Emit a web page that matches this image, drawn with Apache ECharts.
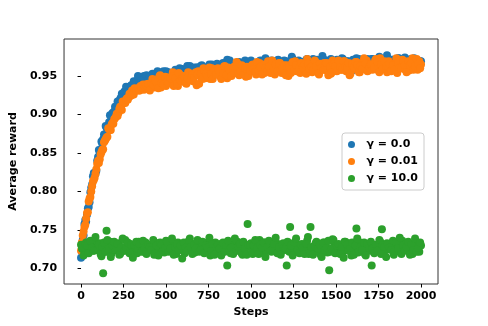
<!DOCTYPE html>
<html>
<head>
<meta charset="utf-8">
<script src="https://cdn.jsdelivr.net/npm/echarts@6/dist/echarts.min.js"></script>
<style>
html, body { margin: 0; padding: 0; background: #fff; }
#chart { width: 488px; height: 326px; }
</style>
</head>
<body>
<div id="chart"></div>
<script>
// training steps, sampled every 10 steps
const steps = [
  0, 10, 20, 30, 40, 50, 60, 70, 80, 90, 100, 110, 120, 130, 140, 150, 160, 170, 180, 190,
  200, 210, 220, 230, 240, 250, 260, 270, 280, 290, 300, 310, 320, 330, 340, 350, 360, 370, 380, 390,
  400, 410, 420, 430, 440, 450, 460, 470, 480, 490, 500, 510, 520, 530, 540, 550, 560, 570, 580, 590,
  600, 610, 620, 630, 640, 650, 660, 670, 680, 690, 700, 710, 720, 730, 740, 750, 760, 770, 780, 790,
  800, 810, 820, 830, 840, 850, 860, 870, 880, 890, 900, 910, 920, 930, 940, 950, 960, 970, 980, 990,
  1000, 1010, 1020, 1030, 1040, 1050, 1060, 1070, 1080, 1090, 1100, 1110, 1120, 1130, 1140, 1150, 1160, 1170, 1180, 1190,
  1200, 1210, 1220, 1230, 1240, 1250, 1260, 1270, 1280, 1290, 1300, 1310, 1320, 1330, 1340, 1350, 1360, 1370, 1380, 1390,
  1400, 1410, 1420, 1430, 1440, 1450, 1460, 1470, 1480, 1490, 1500, 1510, 1520, 1530, 1540, 1550, 1560, 1570, 1580, 1590,
  1600, 1610, 1620, 1630, 1640, 1650, 1660, 1670, 1680, 1690, 1700, 1710, 1720, 1730, 1740, 1750, 1760, 1770, 1780, 1790,
  1800, 1810, 1820, 1830, 1840, 1850, 1860, 1870, 1880, 1890, 1900, 1910, 1920, 1930, 1940, 1950, 1960, 1970, 1980, 1990,
  2000
];
// the steps in between (5, 15, 25, ...)
const stepsMid = [
  5, 15, 25, 35, 45, 55, 65, 75, 85, 95, 105, 115, 125, 135, 145, 155, 165, 175, 185, 195,
  205, 215, 225, 235, 245, 255, 265, 275, 285, 295, 305, 315, 325, 335, 345, 355, 365, 375, 385, 395,
  405, 415, 425, 435, 445, 455, 465, 475, 485, 495, 505, 515, 525, 535, 545, 555, 565, 575, 585, 595,
  605, 615, 625, 635, 645, 655, 665, 675, 685, 695, 705, 715, 725, 735, 745, 755, 765, 775, 785, 795,
  805, 815, 825, 835, 845, 855, 865, 875, 885, 895, 905, 915, 925, 935, 945, 955, 965, 975, 985, 995,
  1005, 1015, 1025, 1035, 1045, 1055, 1065, 1075, 1085, 1095, 1105, 1115, 1125, 1135, 1145, 1155, 1165, 1175, 1185, 1195,
  1205, 1215, 1225, 1235, 1245, 1255, 1265, 1275, 1285, 1295, 1305, 1315, 1325, 1335, 1345, 1355, 1365, 1375, 1385, 1395,
  1405, 1415, 1425, 1435, 1445, 1455, 1465, 1475, 1485, 1495, 1505, 1515, 1525, 1535, 1545, 1555, 1565, 1575, 1585, 1595,
  1605, 1615, 1625, 1635, 1645, 1655, 1665, 1675, 1685, 1695, 1705, 1715, 1725, 1735, 1745, 1755, 1765, 1775, 1785, 1795,
  1805, 1815, 1825, 1835, 1845, 1855, 1865, 1875, 1885, 1895, 1905, 1915, 1925, 1935, 1945, 1955, 1965, 1975, 1985, 1995
];

// gamma = 0.0
const reward_g0 = [
  0.714, 0.737, 0.758, 0.761, 0.778, 0.786, 0.805, 0.820, 0.824, 0.827, 0.845,
  0.850, 0.865, 0.868, 0.870, 0.883, 0.880, 0.899, 0.895, 0.902, 0.910,
  0.909, 0.911, 0.920, 0.927, 0.919, 0.929, 0.921, 0.935, 0.935, 0.935,
  0.943, 0.939, 0.934, 0.945, 0.944, 0.941, 0.950, 0.941, 0.948, 0.947,
  0.944, 0.953, 0.946, 0.943, 0.956, 0.947, 0.952, 0.950, 0.944, 0.956,
  0.953, 0.948, 0.954, 0.951, 0.946, 0.957, 0.955, 0.960, 0.952, 0.954,
  0.958, 0.949, 0.956, 0.963, 0.954, 0.959, 0.952, 0.961, 0.959, 0.954,
  0.964, 0.960, 0.957, 0.951, 0.962, 0.959, 0.965, 0.958, 0.962, 0.966,
  0.957, 0.962, 0.956, 0.965, 0.960, 0.971, 0.960, 0.964, 0.956, 0.962,
  0.966, 0.960, 0.968, 0.957, 0.965, 0.959, 0.966, 0.964, 0.961, 0.970,
  0.959, 0.966, 0.964, 0.961, 0.969, 0.963, 0.957, 0.968, 0.966, 0.962,
  0.965, 0.970, 0.960, 0.967, 0.962, 0.971, 0.959, 0.965, 0.967, 0.960,
  0.969, 0.967, 0.964, 0.975, 0.962, 0.966, 0.959, 0.970, 0.963, 0.968,
  0.964, 0.960, 0.972, 0.966, 0.968, 0.962, 0.968, 0.957, 0.971, 0.967,
  0.964, 0.976, 0.963, 0.970, 0.965, 0.961, 0.972, 0.968, 0.964, 0.969,
  0.968, 0.962, 0.967, 0.972, 0.964, 0.960, 0.969, 0.966, 0.964, 0.971,
  0.965, 0.973, 0.961, 0.968, 0.963, 0.970, 0.959, 0.967, 0.968, 0.964,
  0.972, 0.965, 0.961, 0.970, 0.973, 0.966, 0.969, 0.963, 0.967, 0.977,
  0.964, 0.968, 0.971, 0.961, 0.969, 0.965, 0.973, 0.962, 0.969, 0.966,
  0.970, 0.959, 0.967, 0.972, 0.965, 0.973, 0.963, 0.968, 0.961, 0.969
];
const reward_g0_mid = [
  0.722, 0.743, 0.763, 0.770, 0.780, 0.799, 0.809, 0.824, 0.823, 0.840,
  0.854, 0.854, 0.862, 0.874, 0.885, 0.879, 0.890, 0.889, 0.902, 0.904,
  0.907, 0.917, 0.913, 0.922, 0.917, 0.930, 0.936, 0.929, 0.929, 0.938,
  0.938, 0.934, 0.943, 0.950, 0.940, 0.944, 0.938, 0.947, 0.951, 0.945,
  0.949, 0.940, 0.951, 0.946, 0.948, 0.955, 0.946, 0.949, 0.956, 0.947,
  0.953, 0.955, 0.947, 0.954, 0.945, 0.958, 0.956, 0.952, 0.955, 0.959,
  0.949, 0.957, 0.963, 0.953, 0.957, 0.955, 0.961, 0.951, 0.961, 0.958,
  0.963, 0.957, 0.955, 0.961, 0.957, 0.965, 0.955, 0.962, 0.961, 0.953,
  0.963, 0.961, 0.959, 0.967, 0.958, 0.965, 0.961, 0.970, 0.957, 0.964,
  0.960, 0.963, 0.967, 0.957, 0.965, 0.961, 0.970, 0.960, 0.963, 0.967,
  0.963, 0.958, 0.967, 0.966, 0.960, 0.970, 0.964, 0.962, 0.973, 0.962,
  0.966, 0.959, 0.965, 0.968, 0.961, 0.970, 0.964, 0.958, 0.967, 0.970,
  0.963, 0.968, 0.959, 0.965, 0.972, 0.963, 0.966, 0.969, 0.961, 0.967,
  0.957, 0.968, 0.971, 0.965, 0.969, 0.963, 0.972, 0.966, 0.961, 0.968,
  0.967, 0.964, 0.972, 0.962, 0.968, 0.960, 0.970, 0.968, 0.964, 0.966,
  0.971, 0.963, 0.965, 0.973, 0.960, 0.967, 0.969, 0.964, 0.968, 0.957,
  0.970, 0.966, 0.964, 0.972, 0.967, 0.961, 0.968, 0.965, 0.972, 0.963,
  0.964, 0.972, 0.963, 0.969, 0.967, 0.975, 0.965, 0.970, 0.961, 0.968,
  0.969, 0.966, 0.961, 0.971, 0.964, 0.969, 0.973, 0.965, 0.967, 0.962,
  0.974, 0.965, 0.968, 0.970, 0.963, 0.972, 0.966, 0.961, 0.969, 0.969
];

// gamma = 0.01
const reward_g001 = [
  0.723, 0.743, 0.754, 0.765, 0.773, 0.791, 0.800, 0.813, 0.818, 0.829, 0.840,
  0.842, 0.851, 0.855, 0.866, 0.870, 0.882, 0.880, 0.887, 0.888, 0.895,
  0.901, 0.902, 0.910, 0.906, 0.915, 0.915, 0.921, 0.922, 0.924, 0.931,
  0.926, 0.931, 0.932, 0.931, 0.937, 0.935, 0.932, 0.939, 0.939, 0.935,
  0.940, 0.946, 0.935, 0.944, 0.939, 0.949, 0.935, 0.942, 0.946, 0.937,
  0.948, 0.946, 0.943, 0.955, 0.941, 0.946, 0.937, 0.952, 0.943, 0.950,
  0.944, 0.940, 0.955, 0.947, 0.951, 0.943, 0.951, 0.938, 0.956, 0.951,
  0.947, 0.960, 0.947, 0.957, 0.951, 0.946, 0.960, 0.955, 0.952, 0.958,
  0.957, 0.949, 0.956, 0.962, 0.953, 0.947, 0.960, 0.956, 0.953, 0.962,
  0.955, 0.966, 0.951, 0.959, 0.953, 0.962, 0.949, 0.959, 0.961, 0.956,
  0.965, 0.956, 0.952, 0.963, 0.967, 0.958, 0.961, 0.954, 0.959, 0.969,
  0.956, 0.961, 0.965, 0.952, 0.963, 0.958, 0.967, 0.954, 0.962, 0.959,
  0.964, 0.950, 0.960, 0.966, 0.957, 0.969, 0.956, 0.962, 0.954, 0.964,
  0.959, 0.966, 0.972, 0.957, 0.961, 0.955, 0.964, 0.968, 0.960, 0.952,
  0.963, 0.958, 0.967, 0.962, 0.956, 0.965, 0.953, 0.970, 0.959, 0.961,
  0.967, 0.961, 0.958, 0.965, 0.969, 0.956, 0.964, 0.951, 0.966, 0.963,
  0.959, 0.968, 0.962, 0.955, 0.967, 0.964, 0.960, 0.970, 0.957, 0.965,
  0.964, 0.959, 0.970, 0.962, 0.957, 0.973, 0.960, 0.967, 0.963, 0.955,
  0.969, 0.965, 0.958, 0.966, 0.961, 0.954, 0.968, 0.964, 0.971, 0.959,
  0.963, 0.968, 0.957, 0.964, 0.973, 0.961, 0.966, 0.958, 0.969, 0.965
];
const reward_g001_mid = [
  0.734, 0.748, 0.757, 0.772, 0.787, 0.793, 0.807, 0.815, 0.823, 0.836,
  0.837, 0.848, 0.854, 0.864, 0.868, 0.871, 0.881, 0.880, 0.889, 0.894,
  0.897, 0.898, 0.907, 0.908, 0.917, 0.916, 0.919, 0.919, 0.927, 0.925,
  0.926, 0.934, 0.931, 0.934, 0.931, 0.935, 0.939, 0.936, 0.938, 0.940,
  0.931, 0.941, 0.938, 0.944, 0.942, 0.934, 0.951, 0.941, 0.939, 0.949,
  0.943, 0.941, 0.947, 0.950, 0.937, 0.947, 0.940, 0.954, 0.944, 0.947,
  0.949, 0.941, 0.947, 0.954, 0.944, 0.952, 0.948, 0.955, 0.952, 0.940,
  0.953, 0.946, 0.956, 0.953, 0.949, 0.961, 0.953, 0.946, 0.958, 0.952,
  0.960, 0.956, 0.946, 0.954, 0.963, 0.951, 0.961, 0.957, 0.950, 0.959,
  0.954, 0.968, 0.954, 0.957, 0.964, 0.952, 0.960, 0.962, 0.950, 0.957,
  0.964, 0.959, 0.955, 0.968, 0.957, 0.962, 0.952, 0.965, 0.960, 0.956,
  0.962, 0.954, 0.970, 0.959, 0.965, 0.956, 0.967, 0.958, 0.960, 0.964,
  0.951, 0.961, 0.962, 0.954, 0.968, 0.957, 0.964, 0.956, 0.960, 0.967,
  0.961, 0.965, 0.953, 0.966, 0.959, 0.962, 0.957, 0.970, 0.963, 0.954,
  0.966, 0.961, 0.958, 0.964, 0.967, 0.951, 0.962, 0.955, 0.965, 0.963,
  0.956, 0.970, 0.961, 0.958, 0.969, 0.962, 0.960, 0.967, 0.953, 0.965,
  0.961, 0.968, 0.964, 0.955, 0.963, 0.959, 0.973, 0.966, 0.956, 0.962,
  0.965, 0.958, 0.961, 0.972, 0.968, 0.955, 0.965, 0.959, 0.969, 0.962,
  0.963, 0.966, 0.956, 0.964, 0.958, 0.973, 0.967, 0.961, 0.960, 0.970,
  0.964, 0.955, 0.969, 0.964, 0.967, 0.958, 0.963, 0.972, 0.966, 0.960
];

// gamma = 10.0
const reward_g10 = [
  0.731, 0.725, 0.729, 0.734, 0.721, 0.726, 0.732, 0.723, 0.736, 0.724, 0.728,
  0.733, 0.716, 0.694, 0.722, 0.749, 0.727, 0.735, 0.720, 0.725, 0.731,
  0.724, 0.733, 0.719, 0.728, 0.723, 0.737, 0.726, 0.729, 0.732, 0.721,
  0.730, 0.727, 0.720, 0.735, 0.725, 0.731, 0.722, 0.734, 0.728, 0.724,
  0.729, 0.732, 0.718, 0.726, 0.733, 0.723, 0.727, 0.730, 0.721, 0.736,
  0.725, 0.728, 0.731, 0.722, 0.729, 0.719, 0.734, 0.724, 0.732, 0.727,
  0.720, 0.730, 0.725, 0.739, 0.726, 0.732, 0.721, 0.728, 0.723, 0.735,
  0.729, 0.724, 0.733, 0.727, 0.731, 0.717, 0.725, 0.730, 0.734, 0.722,
  0.728, 0.732, 0.721, 0.729, 0.724, 0.704, 0.727, 0.720, 0.731, 0.726,
  0.723, 0.735, 0.728, 0.732, 0.718, 0.725, 0.730, 0.758, 0.729, 0.733,
  0.719, 0.727, 0.731, 0.724, 0.737, 0.721, 0.726, 0.734, 0.723, 0.728,
  0.730, 0.722, 0.735, 0.725, 0.729, 0.732, 0.720, 0.727, 0.733, 0.724,
  0.704, 0.731, 0.754, 0.729, 0.721, 0.734, 0.730, 0.723, 0.726, 0.732,
  0.727, 0.725, 0.736, 0.719, 0.754, 0.722, 0.728, 0.733, 0.724, 0.729,
  0.718, 0.726, 0.734, 0.730, 0.721, 0.698, 0.723, 0.738, 0.732, 0.725,
  0.730, 0.720, 0.728, 0.722, 0.735, 0.724, 0.733, 0.727, 0.717, 0.731,
  0.726, 0.752, 0.721, 0.734, 0.725, 0.730, 0.719, 0.732, 0.728, 0.723,
  0.704, 0.727, 0.722, 0.729, 0.726, 0.735, 0.751, 0.720, 0.724, 0.733,
  0.725, 0.730, 0.728, 0.718, 0.732, 0.723, 0.729, 0.721, 0.736, 0.726,
  0.733, 0.724, 0.727, 0.731, 0.719, 0.725, 0.734, 0.728, 0.722, 0.730
];
const reward_g10_mid = [
  0.726, 0.717, 0.732, 0.730, 0.720, 0.736, 0.727, 0.723, 0.741, 0.724,
  0.731, 0.719, 0.728, 0.734, 0.722, 0.737, 0.726, 0.715, 0.730, 0.735,
  0.724, 0.732, 0.718, 0.727, 0.739, 0.723, 0.728, 0.734, 0.720, 0.731,
  0.714, 0.730, 0.735, 0.726, 0.732, 0.722, 0.736, 0.727, 0.719, 0.731,
  0.728, 0.724, 0.737, 0.720, 0.730, 0.717, 0.734, 0.731, 0.723, 0.727,
  0.735, 0.722, 0.726, 0.739, 0.718, 0.728, 0.732, 0.724, 0.730, 0.713,
  0.734, 0.727, 0.723, 0.736, 0.728, 0.719, 0.731, 0.726, 0.737, 0.722,
  0.724, 0.735, 0.720, 0.730, 0.727, 0.740, 0.723, 0.732, 0.718, 0.728,
  0.731, 0.726, 0.717, 0.734, 0.722, 0.730, 0.736, 0.724, 0.727, 0.719,
  0.739, 0.723, 0.728, 0.732, 0.720, 0.735, 0.726, 0.718, 0.731, 0.730,
  0.722, 0.730, 0.737, 0.726, 0.719, 0.731, 0.727, 0.734, 0.715, 0.728,
  0.736, 0.723, 0.724, 0.732, 0.740, 0.720, 0.728, 0.718, 0.731, 0.727,
  0.726, 0.735, 0.722, 0.730, 0.717, 0.734, 0.739, 0.724, 0.720, 0.731,
  0.727, 0.719, 0.732, 0.741, 0.723, 0.728, 0.718, 0.730, 0.735, 0.726,
  0.731, 0.715, 0.734, 0.724, 0.727, 0.736, 0.722, 0.726, 0.737, 0.720,
  0.730, 0.732, 0.719, 0.728, 0.714, 0.735, 0.731, 0.723, 0.727, 0.734,
  0.718, 0.730, 0.739, 0.722, 0.728, 0.724, 0.734, 0.717, 0.732, 0.727,
  0.735, 0.726, 0.720, 0.731, 0.723, 0.737, 0.719, 0.730, 0.728, 0.715,
  0.732, 0.727, 0.724, 0.736, 0.722, 0.734, 0.726, 0.740, 0.719, 0.730,
  0.723, 0.728, 0.735, 0.718, 0.731, 0.724, 0.739, 0.722, 0.727, 0.734
];

const xTicks = [0, 250, 500, 750, 1000, 1250, 1500, 1750, 2000];
const yTicks = [0.70, 0.75, 0.80, 0.85, 0.90, 0.95];
const names = ['γ = 0.0', 'γ = 0.01', 'γ = 10.0'];
const colors = ['#1f77b4', '#ff7f0e', '#2ca02c'];

function pairs(xs, ys) {
    return xs.map((s, i) => [s, ys[i]]);
}
function points(ys, ysMid) {
    return pairs(steps, ys).concat(pairs(stepsMid, ysMid));
}

let myChart = echarts.init(document.getElementById('chart'), null, { renderer: 'canvas' });

const font = 'DejaVu Sans';
const boldText = { fontFamily: font, fontWeight: 'bold', fontSize: 11, color: '#000' };

let option = {
    animation: false,
    color: colors,
    grid: {
        left: 61, right: 50, top: 39, bottom: 42,
        show: true, borderColor: '#333', borderWidth: 1, backgroundColor: 'transparent'
    },
    legend: {
        data: names,
        orient: 'vertical',
        left: 342, top: 133,
        padding: [6, 6, 6, 6],
        itemWidth: 20, itemHeight: 7, itemGap: 6,
        icon: 'circle',
        backgroundColor: 'rgba(255,255,255,0.8)',
        borderColor: '#ccc', borderWidth: 1, borderRadius: 3,
        textStyle: boldText
    },
    xAxis: {
        type: 'value',
        min: -100, max: 2100,
        name: 'Steps',
        nameLocation: 'middle',
        nameGap: 22,
        nameTextStyle: boldText,
        axisLine: { show: false },
        axisTick: { show: true, length: 3.5, customValues: xTicks, lineStyle: { color: '#000' } },
        axisLabel: Object.assign({ customValues: xTicks, margin: 7, formatter: v => String(v) }, boldText),
        splitLine: { show: false }
    },
    yAxis: {
        type: 'value',
        min: 0.68, max: 0.998,
        name: 'Average reward',
        nameLocation: 'middle',
        nameGap: 40,
        nameTextStyle: boldText,
        axisLine: { show: false },
        axisTick: { show: true, length: 3.5, customValues: yTicks, lineStyle: { color: '#000' } },
        axisLabel: Object.assign({ customValues: yTicks, margin: 7, formatter: v => v.toFixed(2) }, boldText),
        splitLine: { show: false }
    },
    series: [
        { name: names[0], type: 'scatter', data: points(reward_g0, reward_g0_mid), symbolSize: 8, itemStyle: { color: colors[0], opacity: 1 } },
        { name: names[1], type: 'scatter', data: points(reward_g001, reward_g001_mid), symbolSize: 8, itemStyle: { color: colors[1], opacity: 1 } },
        { name: names[2], type: 'scatter', data: points(reward_g10, reward_g10_mid), symbolSize: 8, itemStyle: { color: colors[2], opacity: 1 } }
    ]
};

myChart.setOption(option);
</script>
</body>
</html>
